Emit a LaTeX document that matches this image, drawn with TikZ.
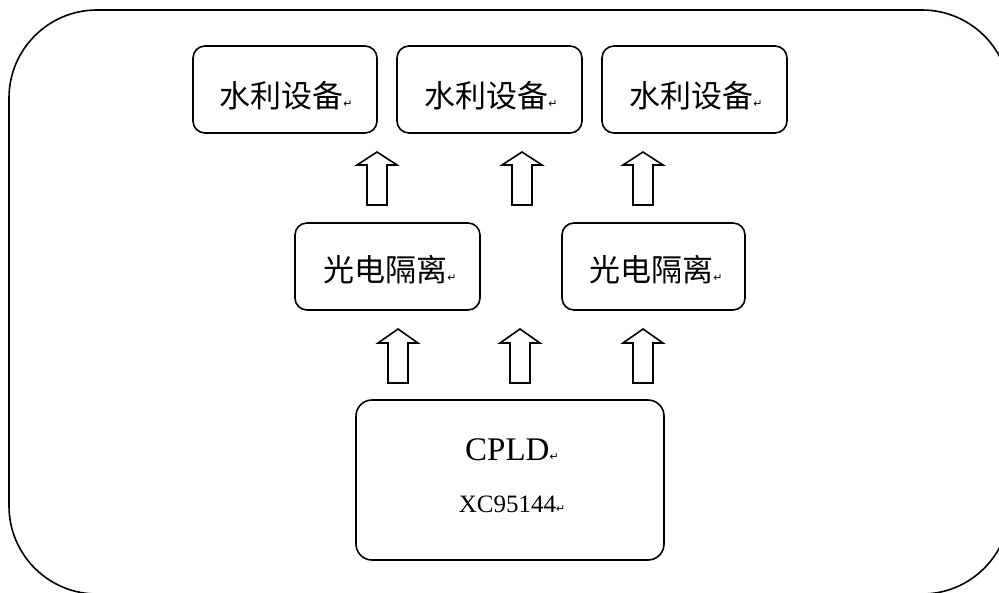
\documentclass[tikz,border=0pt]{standalone}
\usepackage{fontspec}
\setmainfont{Liberation Serif}
\newfontfamily\cjk{Noto Sans CJK SC}
\newfontfamily\symf{DejaVu Sans}
\newcommand{\pmark}{{\symf\fontsize{11}{11}\selectfont ↵}}
\begin{document}
\begin{tikzpicture}[x=1pt,y=-1pt,
  line width=1.6pt,
  box/.style={draw=black, rounded corners=12pt, inner sep=0pt},
  cjkt/.style={font=\cjk\fontsize{31}{31}\selectfont, inner sep=0pt},
  blockarr/.style={draw=black, line width=1.6pt, line join=miter, fill=white}]
\useasboundingbox (0,0) rectangle (999,592);
\clip (0,0) rectangle (999,592);
% outer frame
\draw[rounded corners=88pt] (9,10) rectangle (1010,594);
% top row
\node[box, minimum width=184pt, minimum height=87pt] (t1) at (285,89.5) {};
\node[box, minimum width=185pt, minimum height=87pt] (t2) at (489.5,89.5) {};
\node[box, minimum width=185pt, minimum height=87pt] (t3) at (694.5,89.5) {};
\node[cjkt] (t1l) at (286,96) {水利设备\pmark};
\node[cjkt] (t2l) at (491,96) {水利设备\pmark};
\node[cjkt] (t3l) at (696,96) {水利设备\pmark};
% middle row
\node[box, minimum width=185pt, minimum height=87pt] (m1) at (387.5,266.5) {};
\node[box, minimum width=183pt, minimum height=87pt] (m2) at (653.5,266.5) {};
\node[cjkt] (m1l) at (390,270) {光电隔离\pmark};
\node[cjkt] (m2l) at (656,270) {光电隔离\pmark};
% CPLD
\node[box, rounded corners=16pt, minimum width=308pt, minimum height=160pt] (c) at (510,480) {};
\node[font=\fontsize{33}{33}\selectfont, inner sep=0pt, anchor=base] (cl) at (512,460) {CPLD\pmark};
\node[font=\fontsize{25}{25}\selectfont, inner sep=0pt, anchor=base] (xl) at (512,512) {XC95144\pmark};
% block arrows
\newcommand{\uparr}[4]{% x, tip, wing y, bottom
  \draw[blockarr] (#1-10,#4) -- (#1-10,#3) -- (#1-20,#3) -- (#1,#2) -- (#1+20,#3) -- (#1+10,#3) -- (#1+10,#4) -- cycle;}
\uparr{377}{152}{165}{205}
\uparr{522}{152}{165}{205}
\uparr{643}{152}{165}{205}
\uparr{398}{329}{343}{383}
\uparr{520}{329}{343}{383}
\uparr{643}{329}{343}{383}
\end{tikzpicture}
\end{document}
